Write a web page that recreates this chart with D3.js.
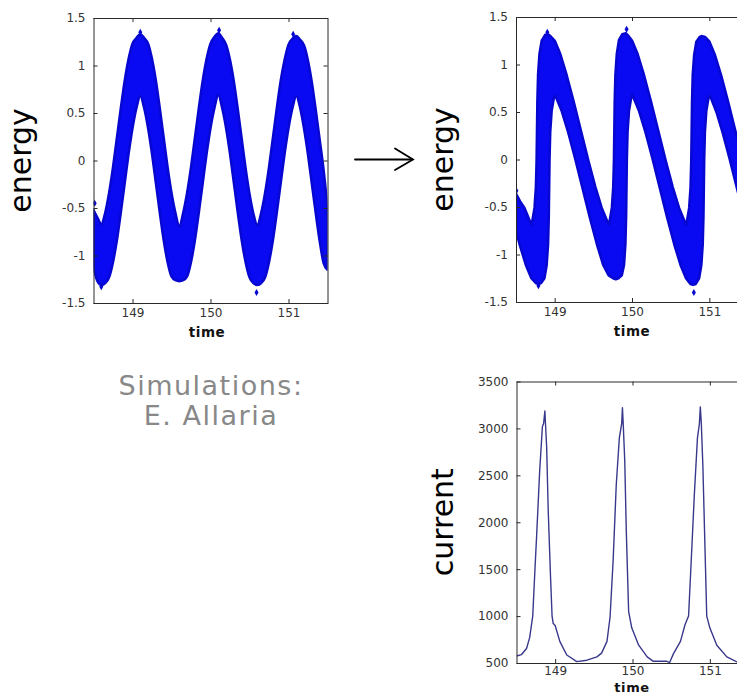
<!DOCTYPE html>
<html>
<head>
<meta charset="utf-8">
<script src="https://cdn.jsdelivr.net/npm/d3@7/dist/d3.min.js"></script>
<style>
  html, body { margin: 0; padding: 0; background: #fff; }
  svg { display: block; }
</style>
</head>
<body>
<script>
// ---------------- DATA ----------------
// Left panel: energy band before the dispersive section (upper/lower envelope of the scatter)
const beforeTime = [148.50,148.55,148.60,148.65,148.70,148.75,148.80,148.85,148.90,148.95,
  149.00,149.05,149.10,149.15,149.20,149.25,149.30,149.35,149.40,149.45,
  149.50,149.55,149.60,149.65,149.70,149.75,149.80,149.85,149.90,149.95,
  150.00,150.05,150.10,150.15,150.20,150.25,150.30,150.35,150.40,150.45,
  150.50,150.55,150.60,150.65,150.70,150.75,150.80,150.85,150.90,150.95,
  151.00,151.05,151.10,151.15,151.20,151.25,151.30,151.35,151.40,151.45,151.50];
const beforeUpper = [-0.52,-0.60,-0.67,-0.55,-0.34,-0.07,0.24,0.55,0.84,1.07,
  1.23,1.29,1.33,1.29,1.23,1.07,0.84,0.55,0.24,-0.07,
  -0.34,-0.55,-0.69,-0.55,-0.34,-0.07,0.24,0.55,0.84,1.07,
  1.23,1.30,1.34,1.29,1.22,1.06,0.83,0.54,0.23,-0.08,
  -0.35,-0.56,-0.68,-0.55,-0.34,-0.07,0.24,0.55,0.84,1.06,
  1.22,1.28,1.31,1.27,1.21,1.05,0.82,0.53,0.22,-0.10,-0.50];
const beforeLower = [-1.13,-1.27,-1.31,-1.29,-1.23,-1.07,-0.84,-0.55,-0.24,0.07,
  0.34,0.55,0.68,0.55,0.34,0.07,-0.24,-0.55,-0.84,-1.07,
  -1.22,-1.26,-1.27,-1.26,-1.22,-1.07,-0.84,-0.55,-0.24,0.07,
  0.34,0.55,0.69,0.55,0.34,0.07,-0.24,-0.55,-0.84,-1.07,
  -1.23,-1.29,-1.31,-1.29,-1.23,-1.07,-0.84,-0.55,-0.24,0.07,
  0.34,0.55,0.68,0.55,0.33,0.06,-0.25,-0.56,-0.85,-1.08,-1.15];
const beforeOutlierTime  = [148.515, 149.10, 150.11, 151.06, 150.59, 148.60];
const beforeOutlierValue = [-0.45, 1.35, 1.37, 1.33, -1.39, -1.33];

// Right top panel: energy band after the dispersive section (upper and lower edges)
const afterUpperTime = [148.50,148.56,148.61,148.68,148.70,148.71,148.739,148.757,148.766,148.771,148.776,148.785,148.803,148.832,148.875,148.91,148.945,
  149.002,149.073,149.155,149.246,149.341,149.436,149.527,149.609,149.68,149.70,149.71,149.739,149.757,149.766,149.771,149.776,149.785,149.803,149.832,149.875,149.92,149.945,
  150.002,150.073,150.155,150.246,150.341,150.436,150.527,150.609,150.68,150.70,150.71,150.739,150.757,150.766,150.771,150.776,150.785,150.803,150.832,150.875,150.90,150.945,
  151.002,151.073,151.155,151.246,151.341,151.436,151.527,151.609];
const afterUpperValue = [-0.36,-0.45,-0.51,-0.65,-0.68,-0.65,-0.51,-0.29,-0.01,0.30,0.61,0.89,1.11,1.25,1.31,1.32,1.30,
  1.25,1.11,0.89,0.61,0.30,-0.01,-0.29,-0.51,-0.65,-0.68,-0.65,-0.51,-0.29,-0.01,0.30,0.61,0.89,1.11,1.26,1.32,1.33,1.31,
  1.25,1.11,0.89,0.61,0.30,-0.01,-0.29,-0.51,-0.65,-0.68,-0.65,-0.51,-0.29,-0.01,0.30,0.61,0.89,1.10,1.24,1.29,1.30,1.29,
  1.24,1.10,0.88,0.60,0.29,-0.02,-0.30,-0.52];
const afterLowerTime = [148.50,148.545,148.627,148.698,148.755,148.79,148.825,148.868,148.897,148.915,148.924,148.929,148.934,148.943,148.961,148.99,149.00,149.02,
  149.091,149.173,149.264,149.359,149.454,149.545,149.627,149.698,149.755,149.79,149.825,149.868,149.897,149.915,149.924,149.929,149.934,149.943,149.961,149.99,150.00,150.02,
  150.091,150.173,150.264,150.359,150.454,150.545,150.627,150.698,150.755,150.79,150.825,150.868,150.897,150.915,150.924,150.929,150.934,150.943,150.961,150.99,151.00,151.02,
  151.091,151.173,151.264,151.359,151.454,151.545,151.627];
const afterLowerValue = [-0.75,-0.89,-1.11,-1.25,-1.30,-1.31,-1.30,-1.25,-1.11,-0.89,-0.61,-0.30,0.01,0.29,0.51,0.65,0.67,0.65,
  0.51,0.29,0.01,-0.30,-0.61,-0.89,-1.11,-1.22,-1.25,-1.26,-1.25,-1.22,-1.11,-0.89,-0.61,-0.30,0.01,0.29,0.51,0.65,0.68,0.65,
  0.51,0.29,0.01,-0.30,-0.61,-0.89,-1.11,-1.25,-1.31,-1.32,-1.31,-1.25,-1.11,-0.89,-0.61,-0.30,0.01,0.29,0.51,0.65,0.67,0.65,
  0.50,0.28,0.00,-0.31,-0.62,-0.90,-1.12];
const afterOutlierTime  = [148.505, 148.905, 149.93, 150.80, 148.79];
const afterOutlierValue = [-0.33, 1.34, 1.37, -1.40, -1.33];

// Right bottom panel: current
const currentTime = [148.50,148.565,148.63,148.67,148.71,148.74,148.76,148.80,148.835,148.85,148.867,148.875,148.89,148.91,148.94,148.96,148.975,
  149.00,149.06,149.15,149.28,149.41,149.54,149.60,149.67,149.71,149.75,149.79,149.83,149.86,149.87,149.88,149.90,149.92,149.95,
  149.99,150.08,150.19,150.27,150.445,150.48,150.53,150.62,150.68,150.725,150.76,150.80,150.84,150.865,150.877,150.89,150.91,150.935,150.96,
  151.00,151.09,151.22,151.35,151.50];
const currentValue = [575,590,655,770,1000,1520,1850,2550,3020,3050,3185,3050,2800,2130,1420,1000,920,
  900,730,585,515,530,565,605,730,990,1600,2400,2900,3050,3220,3050,2650,1900,1050,
  875,690,565,518,518,505,600,730,910,1000,1600,2300,2900,3050,3230,3050,2600,1800,1000,
  875,690,565,512,525];

// Axis ticks and labels
const timeTicks = [149, 150, 151];
const energyTicks = [-1.5, -1, -0.5, 0, 0.5, 1, 1.5];
const currentTicks = [500, 1000, 1500, 2000, 2500, 3000, 3500];
const timeDomain = [148.5, 151.5];
const energyDomain = [-1.5, 1.5];
const currentDomain = [500, 3500];
const creditLines = ["Simulations:", "E. Allaria"];

// ---------------- DRAWING ----------------
const W = 737, H = 698;
const svg = d3.select("body").append("svg").attr("width", W).attr("height", H)
  .style("background", "#fff");

const BAND_FILL = "#0a0af2";
const BAND_EDGE = "#0707d0";
const AXIS = "#2a2a2a";
const TICK_TXT = "#333";

function frame(id, x, y, xt, yt, xtitle, ytitle, ytitleX, xtitleX, xtitleDy, xPad, xtitleSize) {
  const [x0, x1] = x.range();
  const [y0, y1] = y.range(); // y0 bottom, y1 top
  const g = svg.append("g");
  svg.append("clipPath").attr("id", id).append("rect")
    .attr("x", x0).attr("y", y1).attr("width", x1 - x0).attr("height", y0 - y1);

  const fmt = d => String(d);
  const styleAxis = sel => {
    sel.select(".domain").remove();
    sel.selectAll(".tick line").attr("stroke", AXIS);
    sel.selectAll(".tick text").attr("fill", TICK_TXT)
      .attr("font-family", "DejaVu Sans, Verdana, sans-serif").attr("font-size", 12);
  };
  g.append("g").attr("transform", `translate(${x0},0)`)
    .call(d3.axisLeft(y).tickValues(yt).tickFormat(fmt).tickSizeInner(-4).tickSizeOuter(0).tickPadding(8))
    .call(styleAxis);
  g.append("g").attr("transform", `translate(${x1},0)`)
    .call(d3.axisRight(y).tickValues(yt).tickFormat("").tickSizeInner(-4).tickSizeOuter(0))
    .call(styleAxis);
  g.append("g").attr("transform", `translate(0,${y0})`)
    .call(d3.axisBottom(x).tickValues(xt).tickFormat(fmt).tickSizeInner(-4).tickSizeOuter(0).tickPadding(xPad))
    .call(styleAxis);
  g.append("g").attr("transform", `translate(0,${y1})`)
    .call(d3.axisTop(x).tickValues(xt).tickFormat("").tickSizeInner(-4).tickSizeOuter(0))
    .call(styleAxis);
  g.append("rect").attr("x", x0 + 0.5).attr("y", y1 + 0.5)
    .attr("width", x1 - x0).attr("height", y0 - y1)
    .attr("fill", "none").attr("stroke", AXIS).attr("stroke-width", 1);

  svg.append("text").text(xtitle)
    .attr("x", xtitleX).attr("y", y0 + xtitleDy)
    .attr("text-anchor", "middle").attr("font-family", "DejaVu Sans, sans-serif")
    .attr("font-weight", "bold").attr("font-size", xtitleSize).attr("letter-spacing", 0.6).attr("fill", "#111");
  const cy = (y0 + y1) / 2;
  svg.append("text").text(ytitle)
    .attr("transform", `translate(${ytitleX},${cy}) rotate(-90)`)
    .attr("text-anchor", "middle").attr("font-family", "DejaVu Sans, Verdana, sans-serif")
    .attr("font-size", 30).attr("fill", "#000");
  return g;
}

// scales
const xL = d3.scaleLinear().domain(timeDomain).range([93.5, 327.5]);
const yL = d3.scaleLinear().domain(energyDomain).range([303, 18]);
const xR = d3.scaleLinear().domain(timeDomain).range([516, 748]);
const yR = d3.scaleLinear().domain(energyDomain).range([302, 17]);
const xC = d3.scaleLinear().domain(timeDomain).range([516.5, 748.5]);
const yC = d3.scaleLinear().domain(currentDomain).range([663, 381.5]);

// Left panel band
const bandBefore = beforeTime.map((t, i) => ({ t, hi: beforeUpper[i], lo: beforeLower[i] }));
svg.append("path").datum(bandBefore)
  .attr("clip-path", "url(#clipL)")
  .attr("d", d3.area().x(d => xL(d.t)).y0(d => yL(d.lo)).y1(d => yL(d.hi)).curve(d3.curveMonotoneX))
  .attr("fill", BAND_FILL).attr("stroke", BAND_EDGE).attr("stroke-width", 2.5).attr("stroke-linejoin", "round");

// Right top band polygon (upper edge left->right, then lower edge right->left)
const upperPts = afterUpperTime.map((t, i) => [t, afterUpperValue[i]]);
const lowerPts = afterLowerTime.map((t, i) => [t, afterLowerValue[i]]).reverse();
svg.append("path").datum(upperPts.concat(lowerPts))
  .attr("clip-path", "url(#clipR)")
  .attr("d", d3.line().x(d => xR(d[0])).y(d => yR(d[1])).curve(d3.curveLinearClosed))
  .attr("fill", BAND_FILL).attr("stroke", BAND_EDGE).attr("stroke-width", 2.5).attr("stroke-linejoin", "round");

// outlier markers
const diamond = d3.symbol().type(d3.symbolDiamond).size(14);
svg.append("g").attr("clip-path", "url(#clipL)").selectAll("path")
  .data(beforeOutlierTime.map((t, i) => [t, beforeOutlierValue[i]])).join("path")
  .attr("d", diamond).attr("transform", d => `translate(${xL(d[0])},${yL(d[1])})`).attr("fill", BAND_EDGE);
svg.append("g").attr("clip-path", "url(#clipR)").selectAll("path")
  .data(afterOutlierTime.map((t, i) => [t, afterOutlierValue[i]])).join("path")
  .attr("d", diamond).attr("transform", d => `translate(${xR(d[0])},${yR(d[1])})`).attr("fill", BAND_EDGE);

// current line
svg.append("path").datum(currentTime.map((t, i) => [t, currentValue[i]]))
  .attr("clip-path", "url(#clipC)")
  .attr("d", d3.line().x(d => xC(d[0])).y(d => yC(d[1])))
  .attr("fill", "none").attr("stroke", "#38388c").attr("stroke-width", 1.4).attr("stroke-linejoin", "round");

// frames
frame("clipL", xL, yL, timeTicks, energyTicks, "time", "energy", 31, 207, 34, 5, 13.5);
frame("clipR", xR, yR, timeTicks, energyTicks, "time", "energy", 453, 632, 34, 5, 13.5);
frame("clipC", xC, yC, timeTicks, currentTicks, "time", "current", 453, 632, 29, 3, 13);

// arrow
const arrow = svg.append("g").attr("stroke", "#000").attr("stroke-width", 1.8).attr("fill", "none")
  .attr("stroke-linecap", "round").attr("stroke-linejoin", "miter");
arrow.append("line").attr("x1", 355).attr("y1", 159.5).attr("x2", 412).attr("y2", 159.5);
arrow.append("path").attr("d", "M395,148.5 L413,159.5 L395,170");

// credit text
svg.append("g").selectAll("text").data(creditLines).join("text")
  .text(d => d)
  .attr("x", 211).attr("y", (d, i) => 395 + i * 30)
  .attr("text-anchor", "middle").attr("font-family", "DejaVu Sans, Verdana, sans-serif")
  .attr("font-size", 27).attr("letter-spacing", 1.5).attr("fill", "#888");
</script>
</body>
</html>
